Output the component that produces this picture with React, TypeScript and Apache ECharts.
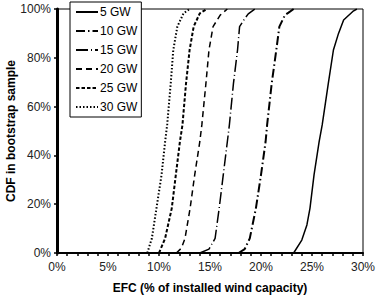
import React, { useEffect, useRef } from "react";
import * as echarts from "echarts";

const seriesNames = ["5 GW", "10 GW", "15 GW", "20 GW", "25 GW", "30 GW"];

const cdf5 = [[23.2, 0], [24.0, 5.3], [24.5, 11.5], [24.8, 18.3], [25.2, 32], [25.7, 45.6], [26.0, 52.5], [26.6, 69.5], [27.1, 83.2], [27.6, 90], [28.1, 95.5], [29.0, 99], [29.4, 100]];
const cdf10 = [[17.8, 0], [18.4, 1.6], [18.9, 6], [19.5, 18.3], [20.0, 32], [20.45, 45.6], [20.6, 52.5], [21.05, 69.5], [21.5, 83.2], [21.8, 92.8], [22.35, 97.5], [22.7, 98.5], [23.2, 100]];
const cdf15 = [[14.0, 0], [14.9, 1.6], [15.5, 6], [15.9, 18.3], [16.3, 32], [16.7, 45.6], [16.9, 52.5], [17.3, 69.5], [17.7, 83.2], [17.9, 92.8], [18.4, 96], [18.75, 98], [19.4, 100]];
const cdf20 = [[11.7, 0], [12.2, 2], [12.55, 6], [13.05, 18.3], [13.5, 32], [14.0, 45.6], [14.2, 52.5], [14.6, 69.5], [14.9, 83.2], [15.3, 92.8], [16.0, 97.5], [16.7, 100]];
const cdf25 = [[10.0, 0], [10.6, 6], [11.25, 18.3], [11.65, 32], [12.05, 45.6], [12.3, 52.5], [12.65, 69.5], [13.0, 83.2], [13.4, 92.8], [14.0, 98.2], [14.7, 100]];
const cdf30 = [[8.85, 0], [9.3, 6], [9.75, 18.3], [10.25, 32], [10.6, 45.6], [10.8, 52.5], [11.15, 69.5], [11.4, 83.2], [11.8, 92.8], [12.4, 98.2], [13.0, 100]];

const seriesData = [cdf5, cdf10, cdf15, cdf20, cdf25, cdf30];

const xTitle = "EFC (% of installed wind capacity)";
const yTitle = "CDF in bootstrap sample";

const lineStyles: any[] = [
  { type: "solid", width: 1.5 },
  { type: [9, 3, 1.5, 3], width: 2 },
  { type: [12, 3, 1, 3], width: 1.5 },
  { type: [6, 4], width: 1.5 },
  { type: [3.5, 2], width: 2 },
  { type: [1.5, 2], width: 2 },
];

export default function App() {
  const ref = useRef<HTMLDivElement>(null);
  useEffect(() => {
    if (!ref.current) return;
    const chart = echarts.init(ref.current, undefined, { renderer: "svg" });
    const font = "Liberation Sans, Arial, sans-serif";
    chart.setOption({
      animation: false,
      backgroundColor: "#fff",
      grid: {
        left: 57,
        right: 19,
        top: 9,
        bottom: 46,
        containLabel: false,
        outerBoundsMode: "none",
        show: true,
        borderColor: "#000",
        borderWidth: 1,
      },
      legend: {
        orient: "vertical",
        left: 70,
        top: 2,
        itemWidth: 22,
        itemHeight: 12,
        itemGap: 7,
        padding: [4, 4, 4, 5],
        backgroundColor: "#fff",
        borderColor: "#000",
        borderWidth: 1,
        borderRadius: 0,
        itemStyle: { opacity: 0, borderWidth: 0 },
        textStyle: { fontFamily: font, fontSize: 12, color: "#000", padding: [0, 0, 0, -3] },
        data: seriesNames,
      },
      xAxis: {
        type: "value",
        min: 0,
        max: 30,
        interval: 5,
        name: xTitle,
        nameLocation: "middle",
        nameGap: 29,
        nameMoveOverlap: false,
        nameTextStyle: { fontFamily: font, fontSize: 12, fontWeight: "bold", color: "#000" },
        axisLine: { show: true, lineStyle: { color: "#000", width: 2 } },
        axisTick: { show: true, inside: false, length: 3, lineStyle: { color: "#000", width: 1.5 } },
        minorTick: { show: true, splitNumber: 5, length: 3, lineStyle: { color: "#000", width: 1.5 } },
        axisLabel: { formatter: "{value}%", fontFamily: font, fontSize: 12, color: "#222", margin: 8 },
        splitLine: { show: false },
      },
      yAxis: {
        type: "value",
        min: 0,
        max: 100,
        interval: 20,
        name: yTitle,
        nameLocation: "middle",
        nameGap: 40,
        nameMoveOverlap: false,
        nameTextStyle: { fontFamily: font, fontSize: 12, fontWeight: "bold", color: "#000" },
        axisLine: { show: true, lineStyle: { color: "#000", width: 3 } },
        axisTick: { show: true, inside: false, length: 3, lineStyle: { color: "#000", width: 1.5 } },
        axisLabel: { formatter: "{value}%", fontFamily: font, fontSize: 12, color: "#222", margin: 6 },
        splitLine: { show: false },
      },
      series: seriesNames.map((name, i) => ({
        name,
        type: "line",
        data: seriesData[i],
        showSymbol: false,
        symbol: "none",
        smooth: false,
        lineStyle: { color: "#000", ...lineStyles[i] },
        itemStyle: { color: "#000" },
      })),
    });
    return () => chart.dispose();
  }, []);
  return (
    <div
      ref={ref}
      style={{ position: "fixed", left: 0, top: 0, width: 382, height: 299, background: "#fff" }}
    />
  );
}
